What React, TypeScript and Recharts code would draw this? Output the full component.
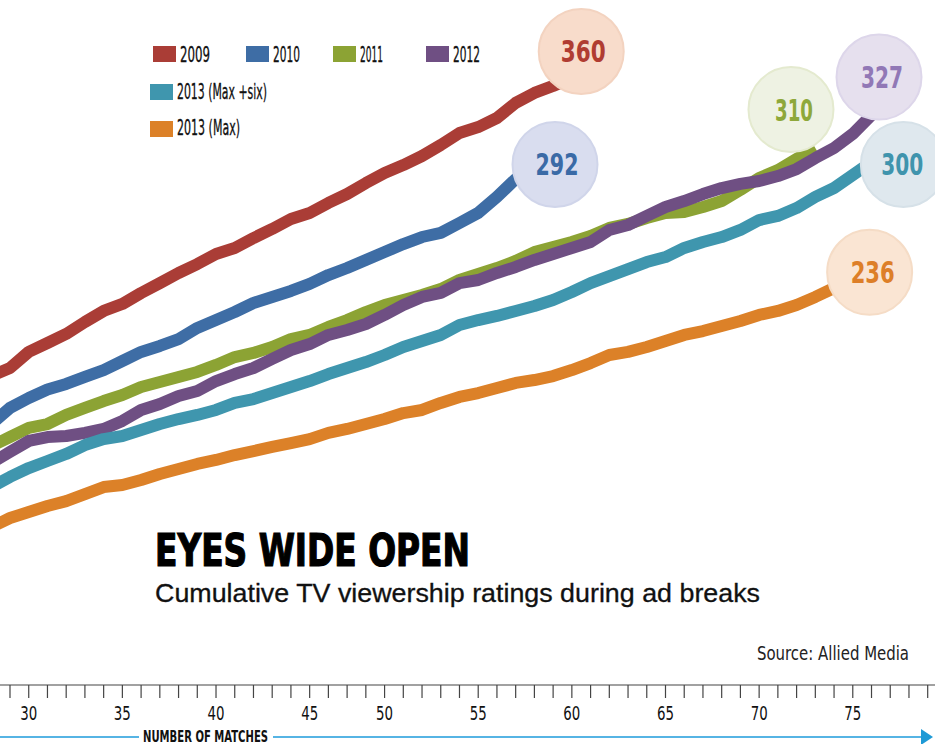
import { LineChart, Line, XAxis, YAxis, ReferenceDot } from 'recharts';

// x axis runs on tick index (one tick per match); labels as printed on the original
const tickLabels = [
  '', '30', '', '', '', '', '35', '', '', '', '', '40', '', '', '', '', '45', '', '', '',
  '50', '', '', '', '', '55', '', '', '', '', '60', '', '', '', '', '65', '', '', '', '',
  '70', '', '', '', '', '75', '', '', '', '',
];

// cumulative ratings, first value sits at tick index -1 (just off the left edge)
const v2009 = [
  180.4, 185.1, 194.5, 199.7, 205.0, 212.0, 218.4, 222.5, 228.9, 234.7, 240.6, 245.8,
  251.7, 255.2, 261.0, 266.3, 272.1, 275.6, 281.5, 286.7, 293.1, 299.0, 303.6, 308.9,
  315.3, 322.3, 325.8, 331.1, 339.9, 345.7, 349.8, 354.5,
];
const v2010 = [
  152.4, 161.8, 167.6, 172.6, 175.8, 179.9, 183.9, 189.2, 194.5, 198.0, 202.0, 208.5,
  213.1, 217.8, 223.1, 226.6, 230.1, 234.2, 239.4, 243.5, 248.2, 252.8, 257.5, 261.6,
  264.0, 269.8, 275.7, 285.0, 295.5, 303.6,
];
const v2011 = [
  139.6, 144.8, 150.1, 152.4, 157.7, 161.8, 165.8, 169.3, 174.0, 176.9, 179.9, 182.8,
  186.9, 191.5, 193.9, 197.4, 202.0, 204.4, 209.1, 213.1, 217.8, 221.9, 224.8, 227.7,
  231.2, 236.5, 240.0, 243.5, 247.6, 252.8, 255.8, 258.7, 262.2, 266.9, 269.2, 272.7,
  275.6, 276.2, 279.1, 282.6, 289.1, 296.1, 300.7, 307.2, 313.6,
];
const v2012 = [
  129.6, 136.1, 142.5, 144.8, 145.4, 147.2, 149.5, 154.2, 160.6, 164.1, 168.8, 171.7,
  177.5, 181.6, 185.1, 190.4, 195.6, 199.1, 204.4, 207.3, 210.8, 216.1, 221.9, 226.6,
  229.0, 234.7, 236.5, 240.6, 244.1, 248.2, 251.7, 255.2, 258.7, 265.7, 268.6, 273.9,
  279.1, 282.6, 286.7, 290.2, 292.6, 294.3, 297.2, 301.3, 307.7, 313.6, 321.8, 332.8,
];
const v2013six = [
  115.6, 121.5, 126.7, 130.8, 134.9, 140.1, 143.6, 145.4, 148.9, 152.4, 155.3, 157.7,
  160.6, 164.7, 167.0, 170.5, 174.0, 177.5, 181.6, 185.1, 188.6, 192.7, 197.4, 200.9,
  204.4, 210.2, 213.1, 215.5, 218.4, 221.3, 224.8, 229.5, 234.7, 238.8, 242.9, 247.0,
  249.9, 255.2, 258.7, 261.6, 265.7, 271.5, 273.9, 278.5, 285.0, 290.2, 297.8, 305.4,
];
const v2013max = [
  92.3, 97.5, 101.0, 104.5, 107.4, 111.5, 115.6, 116.8, 119.7, 123.2, 126.1, 129.1,
  131.4, 134.3, 136.6, 139.0, 141.3, 143.6, 147.2, 149.5, 152.4, 155.3, 158.8, 160.6,
  164.7, 168.2, 170.5, 173.4, 176.4, 178.1, 180.4, 183.9, 188.0, 192.7, 194.5, 197.4,
  200.9, 204.4, 206.7, 209.6, 212.6, 216.1, 218.4, 221.9, 226.6, 231.8, 236.5,
];

const seriesNames = ['2009', '2010', '2011', '2012', '2013 (Max +six)', '2013 (Max)'];
const seriesValues = [v2009, v2010, v2011, v2012, v2013six, v2013max];

// final totals shown in the bubbles, and where each bubble sits (tick index, rating)
const endTotals = ['360', '292', '310', '327', '300', '236'];
const bubbleX = [30.5, 29.1, 41.7, 46.4, 47.7, 45.9];
const bubbleY = [370, 304, 336, 355, 304, 241];

const lineColors = ['#aa3d36', '#3e6da5', '#8ca334', '#6f4f83', '#3f96ae', '#dc8128'];
const bubbleFill = ['#f8dccb', '#d9ddef', '#eef2e3', '#e6e0ee', '#dfe8ee', '#fae5d3'];
const bubbleStroke = ['#f3d3c0', '#d0d5ea', '#e4eacf', '#ddd6ea', '#d6e1e8', '#f5dcc6'];
const bubbleText = ['#b03c32', '#3a6aa6', '#8ea83a', '#9178b6', '#3f94ad', '#dd7f28'];
const bubbleTextWidth = [45, 43, 38, 42, 42, 44];
const bubbleTextShift = [2, 2, 3, 3, -1, 3];

const NARROW = "'Liberation Sans Narrow', 'DejaVu Sans Condensed', 'Arial Narrow', sans-serif";
const SANS = "'Liberation Sans', Arial, sans-serif";

const keys = seriesNames.map((_, i) => 's' + i);

const rows: Record<string, number>[] = [];
for (let j = -1; j < tickLabels.length; j++) {
  const row: Record<string, number> = { j };
  seriesValues.forEach((vals, i) => {
    const v = vals[j + 1];
    if (v !== undefined) row[keys[i]] = v;
  });
  rows.push(row);
}

const tickPositions = tickLabels.map((_, i) => i);

function AxisTick(props: any) {
  const { x, payload } = props;
  const label = tickLabels[payload.value];
  if (!label) return <g />;
  return (
    <text
      x={x}
      y={720}
      textAnchor="middle"
      fontFamily={NARROW}
      fontSize={19}
      fill="#111"
      textLength={17}
      lengthAdjust="spacingAndGlyphs"
    >
      {label}
    </text>
  );
}

function Bubble(i: number) {
  return (props: any) => {
    const { cx, cy } = props;
    return (
      <g>
        <circle cx={cx} cy={cy} r={42.5} fill={bubbleFill[i]} stroke={bubbleStroke[i]} strokeWidth={2} />
        <text
          x={cx + bubbleTextShift[i]}
          y={cy + 11}
          textAnchor="middle"
          fontFamily={NARROW}
          fontWeight={700}
          fontSize={31}
          fill={bubbleText[i]}
          textLength={bubbleTextWidth[i]}
          lengthAdjust="spacingAndGlyphs"
        >
          {endTotals[i]}
        </text>
      </g>
    );
  };
}

// legend slots: swatch box then label
const legendSlots = [
  { x: 153, y: 46, ty: 62, tw: 30 },
  { x: 246, y: 46, ty: 62, tw: 27 },
  { x: 333, y: 46, ty: 62, tw: 23 },
  { x: 426, y: 46, ty: 62, tw: 27 },
  { x: 150, y: 84, ty: 99, tw: 90 },
  { x: 150, y: 121, ty: 135, tw: 63 },
];

export default function App() {
  return (
    <div style={{ position: 'absolute', left: 0, top: 0, width: 935, height: 744, overflow: 'hidden', background: '#fff' }}>
      <LineChart width={935} height={744} data={rows} margin={{ top: 0, right: 0, bottom: 0, left: 0 }}>
        <XAxis
          dataKey="j"
          type="number"
          domain={[-0.534, 49.39]}
          allowDataOverflow
          ticks={tickPositions}
          interval={0}
          tick={<AxisTick />}
          tickSize={13}
          height={59}
          axisLine={{ stroke: '#444', strokeWidth: 1.2 }}
          tickLine={{ stroke: '#444', strokeWidth: 1.2 }}
        />
        <YAxis hide domain={[0, 400]} />
        {keys.map((k, i) => (
          <Line
            key={k}
            dataKey={k}
            type="linear"
            stroke={lineColors[i]}
            strokeWidth={12}
            strokeLinejoin="round"
            dot={false}
            activeDot={false}
            isAnimationActive={false}
          />
        ))}
        {endTotals.map((t, i) => (
          <ReferenceDot key={t} x={bubbleX[i]} y={bubbleY[i]} r={42.5} shape={Bubble(i)} />
        ))}
      </LineChart>
      <svg
        width={935}
        height={744}
        style={{ position: 'absolute', left: 0, top: 0, pointerEvents: 'none' }}
      >
        {seriesNames.map((name, i) => (
          <g key={name}>
            <rect x={legendSlots[i].x} y={legendSlots[i].y} width={23} height={16} fill={lineColors[i]} />
            <text
              x={legendSlots[i].x + 27}
              y={legendSlots[i].ty}
              fontFamily={NARROW}
              fontSize={21}
              fill="#111"
              stroke="#111"
              strokeWidth={0.3}
              textLength={legendSlots[i].tw}
              lengthAdjust="spacingAndGlyphs"
            >
              {name}
            </text>
          </g>
        ))}
        <text
          x={155}
          y={566}
          fontFamily={NARROW}
          fontWeight={700}
          fontSize={44}
          fill="#000"
          stroke="#000"
          strokeWidth={1.2}
          textLength={315}
          lengthAdjust="spacingAndGlyphs"
        >
          EYES WIDE OPEN
        </text>
        <text
          x={155}
          y={602}
          fontFamily={SANS}
          fontSize={25}
          fill="#111"
          stroke="#111"
          strokeWidth={0.3}
          textLength={605}
          lengthAdjust="spacingAndGlyphs"
        >
          Cumulative TV viewership ratings during ad breaks
        </text>
        <text
          x={909}
          y={660}
          textAnchor="end"
          fontFamily={NARROW}
          fontSize={19}
          fill="#222"
          textLength={152}
          lengthAdjust="spacingAndGlyphs"
        >
          Source: Allied Media
        </text>
        <line x1={0} y1={737} x2={924} y2={737} stroke="#56b4e4" strokeWidth={2} />
        <polygon points="921,729 933,737 921,745" fill="#1e9ad6" />
        <rect x={139} y={729} width={134} height={15} fill="#fff" />
        <text
          x={143}
          y={741.5}
          fontFamily={NARROW}
          fontWeight={600}
          fontSize={15}
          fill="#111"
          textLength={125}
          lengthAdjust="spacingAndGlyphs"
        >
          NUMBER OF MATCHES
        </text>
      </svg>
    </div>
  );
}
